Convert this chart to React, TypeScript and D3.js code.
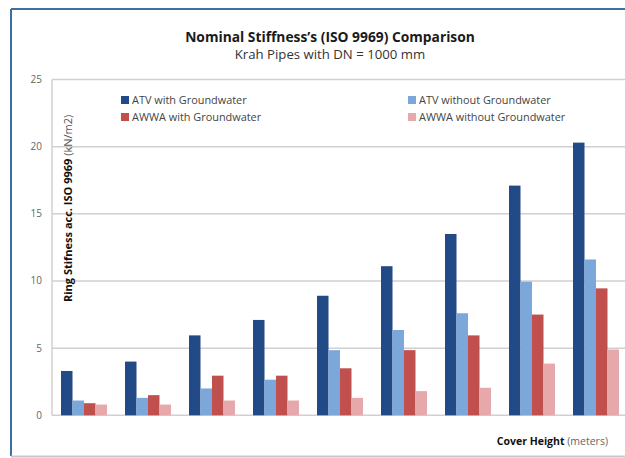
import React from "react";
import * as d3 from "d3";

const categories = ["1", "2", "3", "4", "5", "6", "7", "8", "9"];
const seriesNames = [
  "ATV with Groundwater",
  "ATV without Groundwater",
  "AWWA with Groundwater",
  "AWWA without Groundwater",
];
const atvWith = [3.3, 4.0, 5.95, 7.1, 8.9, 11.1, 13.5, 17.1, 20.3];
const atvWithout = [1.1, 1.3, 2.0, 2.65, 4.85, 6.35, 7.6, 9.95, 11.6];
const awwaWith = [0.9, 1.5, 2.95, 2.95, 3.5, 4.85, 5.95, 7.5, 9.45];
const awwaWithout = [0.8, 0.8, 1.1, 1.1, 1.3, 1.8, 2.05, 3.85, 4.9];
const yTicks = [0, 5, 10, 15, 20, 25];
const colors = ["#224A86", "#7BA7DA", "#C0504D", "#E6A8AA"];

const seriesValues = [atvWith, atvWithout, awwaWith, awwaWithout];

export default function App() {
  const W = 625;
  const H = 458;
  const left = 52;
  const right = 628;
  const top = 79.5;
  const bottom = 415.3;

  const x0 = d3
    .scaleBand<string>()
    .domain(categories)
    .range([left, right])
    .paddingInner(0.28125)
    .paddingOuter(0.140625);
  const x1 = d3
    .scaleBand<string>()
    .domain(seriesNames)
    .range([0, x0.bandwidth()]);
  const y = d3.scaleLinear().domain([0, 25]).range([bottom, top]);

  const font = "'Open Sans', 'Noto Sans', sans-serif";

  return (
    <svg
      width={W}
      height={H}
      style={{ position: "absolute", left: 0, top: 0, background: "#fff" }}
      fontFamily={font}
    >
      <rect x={0} y={0} width={W} height={H} fill="#fff" />
      {/* frame */}
      <line x1={11} y1={9} x2={W} y2={9} stroke="#3D6FA5" strokeWidth={2} />
      <line x1={11} y1={9} x2={11} y2={456} stroke="#3D6FA5" strokeWidth={2} />
      <line x1={11} y1={456.5} x2={W} y2={456.5} stroke="#C8C8C8" strokeWidth={2} />

      {/* title */}
      <text x={330} y={42} textAnchor="middle" fontSize={13.8} fontWeight="bold" fill="#1a1a1a">
        Nominal Stiffness’s (ISO 9969) Comparison
      </text>
      <text x={330} y={59} textAnchor="middle" fontSize={13.2} fill="#333">
        Krah Pipes with DN = 1000 mm
      </text>

      {/* gridlines */}
      {yTicks.map((t) => (
        <g key={t}>
          <line
            x1={left}
            x2={W}
            y1={y(t)}
            y2={y(t)}
            stroke="#D0D0D0"
            strokeWidth={1.5}
          />
          <text
            x={42}
            y={y(t)}
            dy="0.35em"
            textAnchor="end"
            fontSize={10}
            fill="#666"
          >
            {t}
          </text>
        </g>
      ))}
      <line x1={left} x2={left} y1={top} y2={bottom} stroke="#D0D0D0" strokeWidth={1.5} />

      {/* bars */}
      {seriesNames.map((s, si) =>
        categories.map((c, ci) => {
          const v = seriesValues[si][ci];
          return (
            <rect
              key={s + c}
              x={(x0(c) ?? 0) + (x1(s) ?? 0)}
              y={y(v)}
              width={x1.bandwidth()}
              height={bottom - y(v)}
              fill={colors[si]}
            />
          );
        })
      )}

      {/* legend */}
      {seriesNames.map((s, i) => {
        const lx = i % 2 === 0 ? 121 : 408;
        const ly = i < 2 ? 100 : 117;
        return (
          <g key={s}>
            <rect x={lx} y={ly - 4} width={8} height={8} fill={colors[i]} />
            <text x={lx + 11} y={ly} dy="0.35em" fontSize={10.9} fill="#444">
              {s}
            </text>
          </g>
        );
      })}

      {/* y axis label */}
      <text
        transform={`translate(72,302) rotate(-90)`}
        fontSize={11}
        fill="#111"
      >
        <tspan fontWeight="bold">Ring Stifness acc. ISO 9969</tspan>
        <tspan fill="#555"> (kN/m2)</tspan>
      </text>

      {/* x axis label */}
      <text x={608} y={445} textAnchor="end" fontSize={10.5} fill="#111">
        <tspan fontWeight="bold">Cover Height</tspan>
        <tspan fill="#666"> (meters)</tspan>
      </text>
    </svg>
  );
}
